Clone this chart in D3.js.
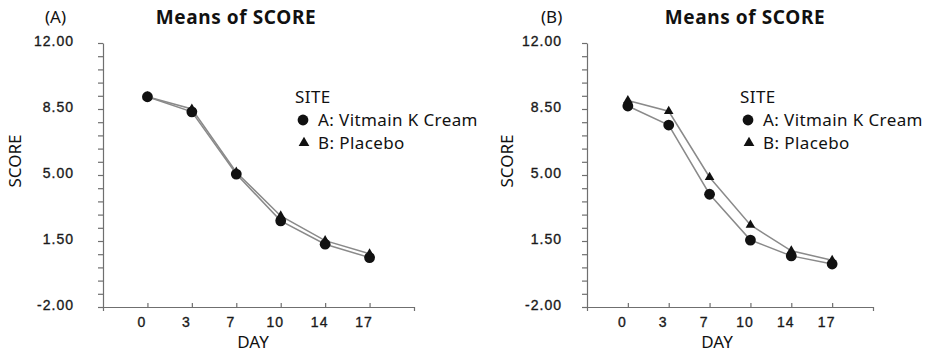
<!DOCTYPE html>
<html>
<head>
<meta charset="utf-8">
<script src="https://cdn.jsdelivr.net/npm/d3@7"></script>
<style>
  html, body { margin: 0; padding: 0; background: #fff; }
  svg { display: block; }
  .tick-label { font-family: "Liberation Sans", Arial, sans-serif; font-size: 14px; fill: #1a1a1a; stroke: #1a1a1a; stroke-width: 0.35px; letter-spacing: 1px; }
  .txt { font-family: "Noto Sans", "Open Sans", sans-serif; fill: #111; }
</style>
</head>
<body>
<svg id="chart" width="925" height="353"></svg>
<script>
// Day categories shared by both panels
const days = ["0", "3", "7", "10", "14", "17"];

// Panel (A) mean scores
const creamA   = [9.15, 8.35, 5.05, 2.57, 1.33, 0.62];
const placeboA = [9.15, 8.50, 5.15, 2.83, 1.52, 0.82];

// Panel (B) mean scores
const creamB   = [8.66, 7.65, 3.98, 1.55, 0.71, 0.28];
const placeboB = [8.95, 8.38, 4.88, 2.35, 0.98, 0.48];

// Y axis: labelled every 3.5, minor ticks every 0.7
const yMin = -2, yMax = 12, yStep = 0.7;
const yMajorLabels = ["12.00", "8.50", "5.00", "1.50", "-2.00"];

const seriesNames = ["A: Vitmain K Cream", "B: Placebo"];

const panels = [
  { tag: "(A)", x0: 103, x1: 414, series: [creamA, placeboA],
    tagX: 45, titleX: 236, labelGap: 24, scoreX: 21, dayX: 253, legendX: 295 },
  { tag: "(B)", x0: 587, x1: 873, series: [creamB, placeboB],
    tagX: 541, titleX: 745, labelGap: 20, scoreX: 513, dayX: 717, legendX: 740 }
];

const yTop = 43, yBot = 307;
const svg = d3.select("#chart");
const lineColor = "#8a8a8a";
const axisColor = "#6f6f6f";
const markColor = "#111";

const triPath = (s) => d3.symbol().type(d3.symbolTriangle).size(s)();

panels.forEach(p => {
  const g = svg.append("g");

  const x = d3.scalePoint().domain(days).range([p.x0, p.x1]).padding(1);
  const y = d3.scaleLinear().domain([yMin, yMax]).range([yBot, yTop]);

  const nTicks = Math.round((yMax - yMin) / yStep);
  const yTicks = d3.range(nTicks + 1).map(i => yMin + i * yStep);

  // y axis
  const yAxis = d3.axisLeft(y)
    .tickValues(yTicks)
    .tickSizeInner(5)
    .tickSizeOuter(0)
    .tickPadding(p.labelGap)
    .tickFormat((v, i) => {
      const k = Math.round((v - yMin) / yStep);
      return k % 5 === 0 ? yMajorLabels[(nTicks - k) / 5] : "";
    });
  const ya = g.append("g").attr("transform", `translate(${p.x0},0)`).call(yAxis);
  ya.select(".domain").attr("stroke", axisColor).attr("stroke-width", 1.2);
  ya.selectAll(".tick line").attr("stroke", axisColor).attr("stroke-width", 1.2);
  ya.selectAll(".tick text").attr("class", "tick-label").attr("dy", "0.2em");

  // x axis
  const xAxis = d3.axisBottom(x)
    .tickSizeInner(-4)
    .tickSizeOuter(4)
    .tickPadding(9);
  const xa = g.append("g").attr("transform", `translate(0,${yBot})`).call(xAxis);
  xa.select(".domain").attr("stroke", axisColor).attr("stroke-width", 1.2);
  xa.selectAll(".tick line").attr("stroke", axisColor).attr("stroke-width", 1.2);
  xa.selectAll(".tick text").attr("class", "tick-label").attr("dx", -6).attr("dy", "0.75em");

  // series lines
  const line = d3.line().x((d, i) => x(days[i])).y(d => y(d));
  p.series.forEach(vals => {
    g.append("path")
      .datum(vals)
      .attr("d", line)
      .attr("fill", "none")
      .attr("stroke", lineColor)
      .attr("stroke-width", 1.5);
  });

  // markers: circles for cream, triangles for placebo
  g.selectAll(".dot").data(p.series[0]).enter().append("circle")
    .attr("cx", (d, i) => x(days[i]))
    .attr("cy", d => y(d))
    .attr("r", 5.4)
    .attr("fill", markColor);
  g.selectAll(".tri").data(p.series[1]).enter().append("path")
    .attr("d", triPath(40))
    .attr("transform", (d, i) => `translate(${x(days[i])},${y(d)})`)
    .attr("fill", markColor);

  // panel tag and title
  g.append("text").attr("class", "txt")
    .attr("x", p.tagX).attr("y", 23)
    .attr("font-size", 17)
    .text(p.tag);
  g.append("text").attr("class", "txt")
    .attr("x", p.titleX).attr("y", 24)
    .attr("text-anchor", "middle")
    .attr("font-size", 19).attr("font-weight", "bold")
    .attr("letter-spacing", "0.6px")
    .text("Means of SCORE");

  // axis titles
  g.append("text").attr("class", "txt")
    .attr("transform", `translate(${p.scoreX},161) rotate(-90)`)
    .attr("text-anchor", "middle")
    .attr("font-size", 17)
    .text("SCORE");
  g.append("text").attr("class", "txt")
    .attr("x", p.dayX).attr("y", 348)
    .attr("text-anchor", "middle")
    .attr("font-size", 17)
    .text("DAY");

  // legend
  const lg = g.append("g").attr("transform", `translate(${p.legendX},0)`);
  lg.append("text").attr("class", "txt").attr("x", 0).attr("y", 103)
    .attr("font-size", 17).attr("letter-spacing", "0.4px").text("SITE");
  lg.append("circle").attr("cx", 8).attr("cy", 120).attr("r", 5.4).attr("fill", markColor);
  lg.append("path").attr("d", triPath(50)).attr("transform", "translate(9,143)").attr("fill", markColor);
  lg.append("text").attr("class", "txt").attr("x", 23).attr("y", 126)
    .attr("font-size", 17).attr("letter-spacing", "0.4px").text(seriesNames[0]);
  lg.append("text").attr("class", "txt").attr("x", 23).attr("y", 149)
    .attr("font-size", 17).attr("letter-spacing", "0.4px").text(seriesNames[1]);
});
</script>
</body>
</html>
